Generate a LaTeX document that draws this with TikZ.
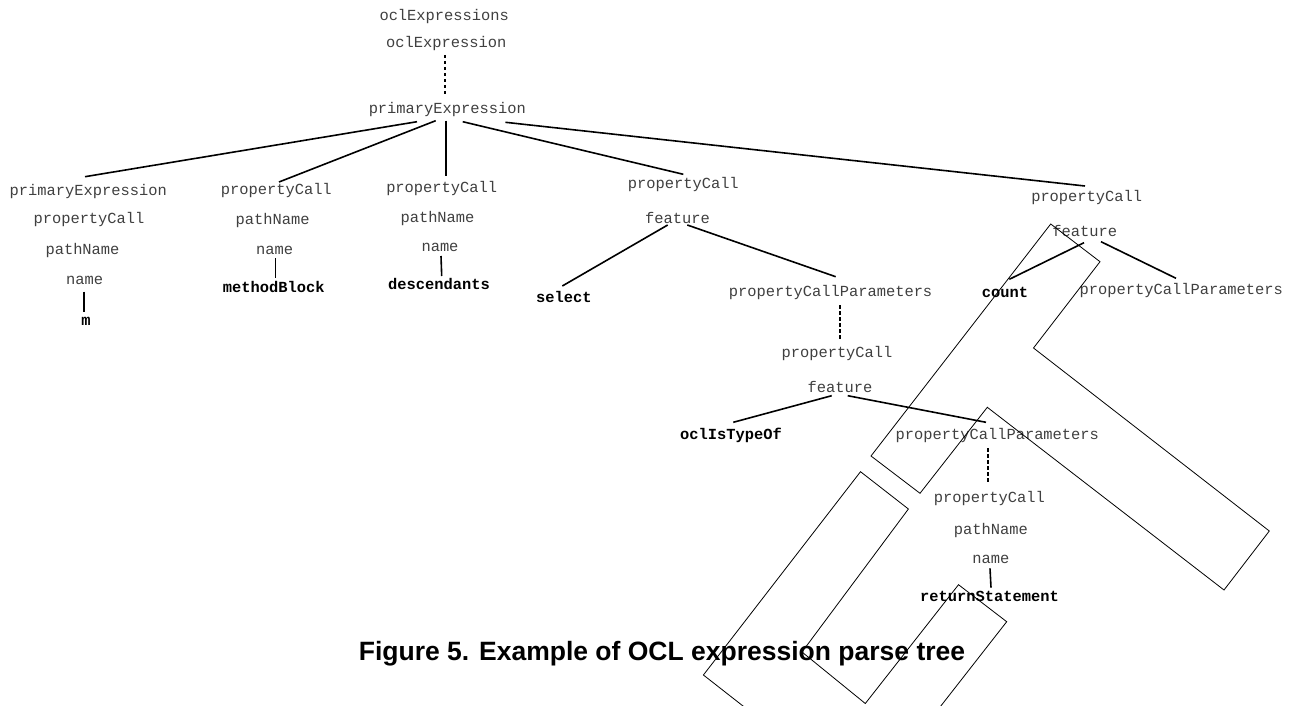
\documentclass[tikz,border=0pt]{standalone}
\usepackage{fontspec}
\setmainfont{Liberation Serif}
\setmonofont{Liberation Mono}
\setsansfont{Liberation Sans}
\tikzset{
 lab/.style={font=\fontsize{15.4}{18}\selectfont\ttfamily, text=black!75, inner sep=0pt},
 kw/.style={font=\fontsize{15.4}{18}\selectfont\ttfamily\bfseries, text=black, inner sep=0pt},
 edge/.style={line width=1.6pt, draw=black},
 dedge/.style={line width=2pt, draw=black, dash pattern=on 3.5pt off 2.5pt},
 outline/.style={line width=0.8pt, draw=black, line join=miter},
 caption/.style={font=\fontsize{26.5}{30}\selectfont\sffamily\bfseries, inner sep=0pt}
}
\begin{document}
\begin{tikzpicture}[x=1pt,y=-1pt]
\useasboundingbox (0,0) rectangle (1290,706);
\fill[white] (0,0) rectangle (1290,706);

% top
\node[lab] (top1) at (444.2,16.7) {oclExpressions};
\node[lab] (top2) at (446.3,43.3) {oclExpression};
\node[lab] (pe) at (447.3,109.3) {primaryExpression};

% column a
\node[lab] (a1) at (88.3,191.7) {primaryExpression};
\node[lab] (a2) at (89,220) {propertyCall};
\node[lab] (a3) at (82.5,250.7) {pathName};
\node[lab] (a4) at (84.7,280) {name};
\node[kw] (a5) at (86,321.7) {m};

% column b
\node[lab] (b1) at (276.3,190.7) {propertyCall};
\node[lab] (b2) at (272.7,221) {pathName};
\node[lab] (b3) at (274.7,250) {name};
\node[kw] (b4) at (273.7,286.7) {methodBlock};

% column c
\node[lab] (c1) at (441.7,188.3) {propertyCall};
\node[lab] (c2) at (437.5,218.3) {pathName};
\node[lab] (c3) at (440,247.3) {name};
\node[kw] (c4) at (439,284) {descendants};

% column d
\node[lab] (d1) at (683.3,184.3) {propertyCall};
\node[lab] (d2) at (677.5,217.7) {feature};
\node[kw] (d3) at (563.8,296.7) {select};
\node[lab] (d4) at (830.6,292.3) {propertyCallParameters};
\node[lab] (d5) at (837,353.7) {propertyCall};
\node[lab] (d6) at (840,386.7) {feature};
\node[kw] (d7) at (731,435.7) {oclIsTypeOf};
\node[lab] (d8) at (997.3,435.7) {propertyCallParameters};
\node[lab] (d9) at (989.3,498.3) {propertyCall};
\node[lab] (d10) at (990.8,531) {pathName};
\node[lab] (d11) at (990.8,559) {name};
\node[kw] (d12) at (989.5,596.7) {returnStatement};

% column e
\node[lab] (e1) at (1086.7,197.7) {propertyCall};
\node[lab] (e2) at (1084.7,231) {feature};
\node[kw] (e3) at (1005,292.7) {count};
\node[lab] (e4) at (1181.3,290.7) {propertyCallParameters};

% caption
\node[caption] (cap) at (662,654) {Figure 5. Example of OCL expression parse tree};

% connectors
\draw[dedge] ([shift={(-1.3,11.7)}]top2.center) -- ([shift={(-2.3,-12.6)}]pe.center);
\draw[edge] ([shift={(-30.3,12.4)}]pe.center) -- ([shift={(-3.3,-15)}]a1.center);
\draw[edge] ([shift={(-11.6,11.4)}]pe.center) -- ([shift={(2.7,-8.7)}]b1.center);
\draw[edge] ([shift={(-1.3,11.4)}]pe.center) -- ([shift={(4.3,-12.3)}]c1.center);
\draw[edge] ([shift={(15.4,12.4)}]pe.center) -- ([shift={(0,-10)}]d1.center);
\draw[edge] ([shift={(58.1,13)}]pe.center) -- ([shift={(-1.7,-11.7)}]e1.center);
\draw[edge] ([shift={(-0.7,11.7)}]a4.center) -- ([shift={(-2,-10)}]a5.center);
\draw[edge] ([shift={(0.6,8.3)}]b3.center) -- ([shift={(1.6,-8.4)}]b4.center);
\draw[edge] ([shift={(1,8.7)}]c3.center) -- ([shift={(2.7,-8)}]c4.center);
\draw[edge] ([shift={(-9.8,7.3)}]d2.center) -- ([shift={(-1.5,-10.7)}]d3.center);
\draw[edge] ([shift={(9.8,7.3)}]d2.center) -- ([shift={(5.1,-15.6)}]d4.center);
\draw[dedge] ([shift={(9.4,12.7)}]d4.center) -- ([shift={(3,-13.7)}]d5.center);
\draw[edge] ([shift={(-8.3,9)}]d6.center) -- ([shift={(2.3,-13.4)}]d7.center);
\draw[edge] ([shift={(7.7,9)}]d6.center) -- ([shift={(-11.3,-13.4)}]d8.center);
\draw[dedge] ([shift={(-9.3,12.6)}]d8.center) -- ([shift={(-1.3,-15)}]d9.center);
\draw[edge] ([shift={(-0.8,9.3)}]d11.center) -- ([shift={(1.5,-9)}]d12.center);
\draw[edge] ([shift={(-0.7,11.7)}]e2.center) -- ([shift={(4.3,-13.4)}]e3.center);
\draw[edge] ([shift={(16.3,10.7)}]e2.center) -- ([shift={(-5.3,-12.4)}]e4.center);

% outline shapes
\begin{scope}
\clip (0,0) rectangle (1290,706);
\draw[outline] (1050.7,224) -- (1100,261.7) -- (1033.5,348) -- (1269.3,531)
  -- (1224,590) -- (987.3,407.3) -- (920,493.3) -- (871,456) -- cycle;
\draw[outline] (812,760) -- (703.4,675) -- (860.5,471.7) -- (908.4,509)
  -- (802,652) -- (865.3,703.5) -- (958.5,584.7) -- (1006.7,621.7) -- (898.6,760);
\end{scope}
\end{tikzpicture}
\end{document}
